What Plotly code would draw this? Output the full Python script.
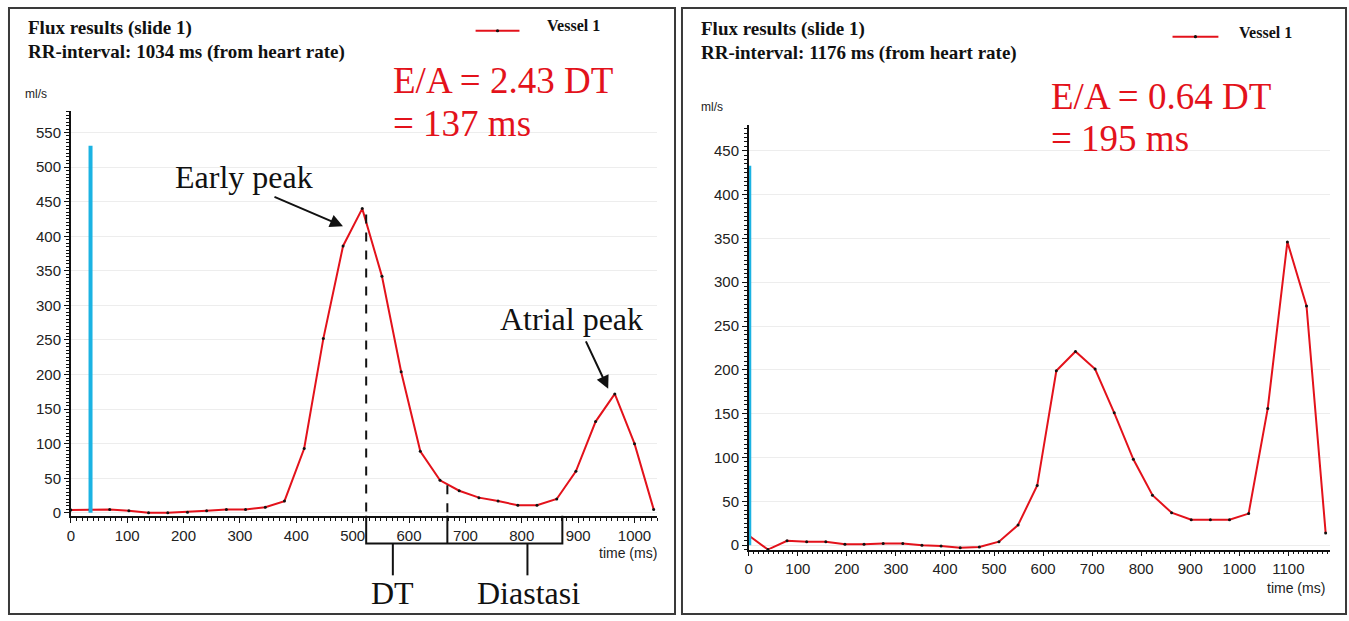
import plotly.graph_objects as go

# ---------------- data ----------------
time_left = [0, 34, 69, 103, 138, 172, 207, 241, 276, 310, 345, 379, 414, 448, 483, 517,
             552, 586, 620, 655, 689, 724, 758, 793, 827, 862, 896, 931, 965, 1000, 1034]
flow_left = [4, 5, 5, 3, 0, 0, 1, 3, 5, 5, 8, 17, 93, 252, 386, 440,
             342, 204, 89, 47, 32, 22, 17, 11, 11, 20, 60, 132, 172, 100, 5]

time_right = [0, 39, 78, 118, 157, 196, 235, 274, 314, 353, 392, 431, 470, 510, 549, 588,
              627, 666, 706, 745, 784, 823, 862, 902, 941, 980, 1019, 1058, 1098, 1137, 1176]
flow_right = [11, -5, 5, 4, 4, 1, 1, 2, 2, 0, -1, -3, -2, 4, 23, 68,
              199, 221, 201, 151, 98, 57, 37, 29, 29, 29, 36, 156, 346, 273, 14]

cursor_left_t = [35, 35]
cursor_left_v = [0, 531]
cursor_right_t = [2, 2]
cursor_right_v = [0, 433]

x_ticks_left = [0, 100, 200, 300, 400, 500, 600, 700, 800, 900, 1000]
y_ticks_left = [0, 50, 100, 150, 200, 250, 300, 350, 400, 450, 500, 550]
x_ticks_right = [0, 100, 200, 300, 400, 500, 600, 700, 800, 900, 1000, 1100]
y_ticks_right = [0, 50, 100, 150, 200, 250, 300, 350, 400, 450]

dt_start, dt_end, diastasis_end = 524, 668, 872

# ---------------- geometry ----------------
W, H = 1349, 621
def PX(x):
    return x / W
def PY(y):
    return 1 - y / H

L_X = (67, 655); L_XR = (0, 1040)
L_Y = (520, 112); L_YR = (-4.3, 581)
R_X = (747, 1330); R_XR = (0, 1185)
R_Y = (554, 126); R_YR = (-5, 479.4)

def lx(t):  # left data time -> pixel
    return L_X[0] + (t - L_XR[0]) / (L_XR[1] - L_XR[0]) * (L_X[1] - L_X[0])
def ly(v):
    return L_Y[0] - (v - L_YR[0]) / (L_YR[1] - L_YR[0]) * (L_Y[0] - L_Y[1])

RED = "#e3121b"
CYAN = "#1bb3e3"
SERIF = "Liberation Serif"
SANS = "Liberation Sans"

fig = go.Figure()

for t, v, xa, ya in [(time_left, flow_left, "x", "y"), (time_right, flow_right, "x2", "y2")]:
    fig.add_trace(go.Scatter(x=t, y=v, xaxis=xa, yaxis=ya, mode="lines+markers",
                             line=dict(color=RED, width=2),
                             marker=dict(color="#111111", size=3),
                             showlegend=False, cliponaxis=False))

fig.add_trace(go.Scatter(x=cursor_left_t, y=cursor_left_v, xaxis="x", yaxis="y", mode="lines",
                         line=dict(color=CYAN, width=4), showlegend=False))
fig.add_trace(go.Scatter(x=cursor_right_t, y=cursor_right_v, xaxis="x2", yaxis="y2", mode="lines",
                         line=dict(color=CYAN, width=3), showlegend=False))

def axis_x(dom, rng, ticks, anchor):
    return dict(domain=[PX(dom[0]), PX(dom[1])], range=list(rng), anchor=anchor,
                tickvals=ticks, showgrid=False, zeroline=False,
                showline=True, linecolor="#111", linewidth=1.5,
                ticks="outside", ticklen=5, tickcolor="#111", tickwidth=1.2,
                tickfont=dict(family=SANS, size=15, color="#222"),
                minor=dict(dtick=10, ticks="outside", ticklen=3, tickcolor="#111", tickwidth=1,
                           showgrid=False))

def axis_y(dom, rng, ticks, anchor):
    return dict(domain=[PY(dom[0]), PY(dom[1])], range=list(rng), anchor=anchor,
                tickvals=ticks, showgrid=True, gridcolor="#ededed", gridwidth=1,
                zeroline=False, showline=True, linecolor="#111", linewidth=1.5,
                ticks="outside", ticklen=5, tickcolor="#111", tickwidth=1.2,
                tickfont=dict(family=SANS, size=15, color="#222"),
                minor=dict(dtick=5, ticks="outside", ticklen=3, tickcolor="#111", tickwidth=1,
                           showgrid=False))

shapes = []
# panel borders
for x0, x1 in [(5, 673), (680, 1346)]:
    shapes.append(dict(type="rect", xref="paper", yref="paper",
                       x0=PX(x0), x1=PX(x1), y0=PY(619), y1=PY(8),
                       line=dict(color="#3a3a3a", width=2)))

# legend samples
for (a, b, yy) in [(473, 517, 31), (1172, 1218, 37)]:
    shapes.append(dict(type="line", xref="paper", yref="paper", x0=PX(a), x1=PX(b),
                       y0=PY(yy), y1=PY(yy), line=dict(color=RED, width=2)))
    m = (a + b) / 2
    shapes.append(dict(type="circle", xref="paper", yref="paper", x0=PX(m - 1.6), x1=PX(m + 1.6),
                       y0=PY(yy + 1.6), y1=PY(yy - 1.6), fillcolor="#111", line=dict(width=0)))

# DT / diastasis markers (left panel)
xa, xb, xc = lx(dt_start), lx(dt_end), lx(diastasis_end)
axis_y_px = L_Y[0]
bottom = 548
shapes.append(dict(type="line", xref="paper", yref="paper", x0=PX(xa), x1=PX(xa),
                   y0=PY(ly(440) + 6), y1=PY(axis_y_px), line=dict(color="#111", width=2, dash="dash")))
shapes.append(dict(type="line", xref="paper", yref="paper", x0=PX(xb), x1=PX(xb),
                   y0=PY(ly(40)), y1=PY(axis_y_px), line=dict(color="#111", width=2, dash="dash")))
path = (f"M {PX(xa)} {PY(axis_y_px)} L {PX(xa)} {PY(bottom)} L {PX(xc)} {PY(bottom)} "
        f"L {PX(xc)} {PY(axis_y_px)} M {PX(xb)} {PY(axis_y_px)} L {PX(xb)} {PY(bottom)}")
shapes.append(dict(type="path", xref="paper", yref="paper", path=path,
                   line=dict(color="#111", width=2)))
for sx in (390, 525):
    shapes.append(dict(type="line", xref="paper", yref="paper", x0=PX(sx), x1=PX(sx),
                       y0=PY(bottom), y1=PY(580), line=dict(color="#111", width=2)))

ann = []
def text(x, y, s, size, color="#111", xanchor="left", family=SERIF):
    ann.append(dict(x=PX(x), y=PY(y), xref="paper", yref="paper", text=s, showarrow=False,
                    xanchor=xanchor, yanchor="middle",
                    font=dict(family=family, size=size, color=color)))

# left panel texts
text(22, 28, "<b>Flux results (slide 1)</b>", 19)
text(22, 52, "<b>RR-interval: 1034 ms (from heart rate)</b>", 19)
text(543, 26, "<b>Vessel 1</b>", 16)
text(19, 95, "ml/s", 12, "#222", family=SANS)
text(388, 81, "E/A = 2.43 DT", 37, RED)
text(388, 124, "= 137 ms", 37, RED)
text(241, 178, "Early peak", 32, xanchor="center")
text(569, 322, "Atrial peak", 32, xanchor="center")
text(390, 598, "DT", 32, xanchor="center")
text(526, 598, "Diastasi", 32, xanchor="center")
text(657, 557, "time (ms)", 14, "#222", xanchor="right", family=SANS)

# right panel texts
text(697, 29, "<b>Flux results (slide 1)</b>", 19)
text(697, 53, "<b>RR-interval: 1176 ms (from heart rate)</b>", 19)
text(1237, 33, "<b>Vessel 1</b>", 16)
text(697, 108, "ml/s", 12, "#222", family=SANS)
text(1048, 97, "E/A = 0.64 DT", 37, RED)
text(1048, 140, "= 195 ms", 37, RED)
text(1327, 593, "time (ms)", 14, "#222", xanchor="right", family=SANS)

# arrows
for (hx, hy, tx, ty) in [(340, 228, 270, 198), (606, 392, 583, 343)]:
    ann.append(dict(x=PX(hx), y=PY(hy), xref="paper", yref="paper", text="",
                    showarrow=True, arrowhead=2, arrowsize=1.3, arrowwidth=2, arrowcolor="#111",
                    ax=tx - hx, ay=ty - hy, axref="pixel", ayref="pixel", standoff=0))

fig.update_layout(
    width=W, height=H, margin=dict(l=0, r=0, t=0, b=0),
    paper_bgcolor="white", plot_bgcolor="white",
    xaxis=axis_x(L_X, L_XR, x_ticks_left, "y"),
    yaxis=axis_y(L_Y, L_YR, y_ticks_left, "x"),
    xaxis2=axis_x(R_X, R_XR, x_ticks_right, "y2"),
    yaxis2=axis_y(R_Y, R_YR, y_ticks_right, "x2"),
    shapes=shapes, annotations=ann, showlegend=False,
)

fig.write_html("out.html", config={"displayModeBar": False},
               post_script="document.body.style.margin='0';document.body.style.padding='0';"
                           "document.documentElement.style.overflow='hidden';")
